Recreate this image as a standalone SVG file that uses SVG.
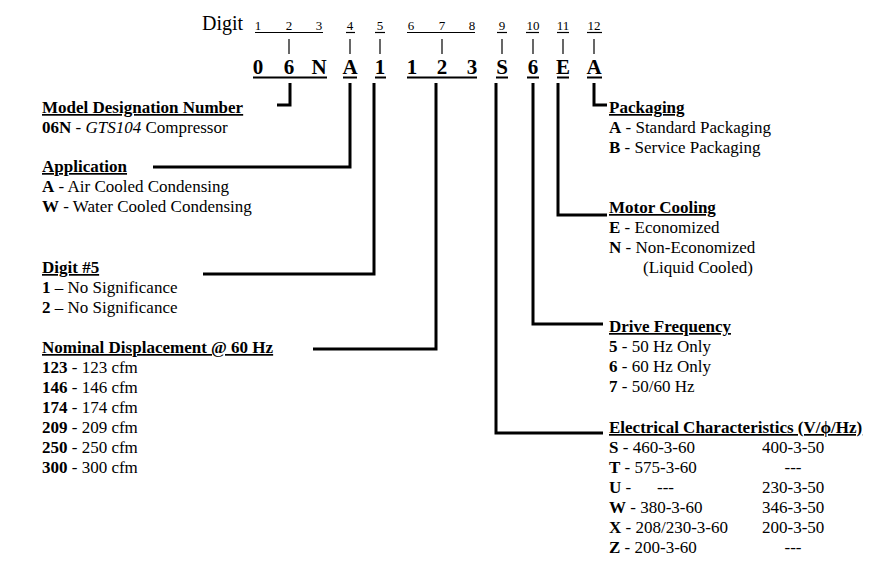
<svg xmlns="http://www.w3.org/2000/svg" width="884" height="572" viewBox="0 0 884 572">
<style>
text{font-family:"Liberation Serif","Times New Roman",serif;fill:#000}
.t{font-size:17px}
.h{font-size:17px;font-weight:bold;text-decoration:underline}
.b{font-weight:bold}
.sd{font-size:13px;text-anchor:middle}
.big{font-size:21px;font-weight:bold;text-anchor:middle}
.ul{stroke:#000;stroke-width:1.2}
.ulb{stroke:#000;stroke-width:2}
.tick{stroke:#000;stroke-width:1.2}
.con{fill:none;stroke:#000;stroke-width:3;stroke-linejoin:miter}
</style>
<rect width="884" height="572" fill="#fff"/>
<g id="digit-header">
<text x="202" y="30" style="font-size:20px">Digit</text>
<text class="sd" x="258" y="30">1</text><text class="sd" x="289" y="30">2</text><text class="sd" x="319" y="30">3</text>
<text class="sd" x="350" y="30">4</text><text class="sd" x="380" y="30">5</text>
<text class="sd" x="411" y="30">6</text><text class="sd" x="442" y="30">7</text><text class="sd" x="472" y="30">8</text>
<text class="sd" x="502" y="30">9</text><text class="sd" x="533" y="30">10</text><text class="sd" x="563" y="30">11</text><text class="sd" x="594" y="30">12</text>
<line class="ul" x1="255" y1="32.5" x2="323" y2="32.5"/>
<line class="ul" x1="346" y1="32.5" x2="355" y2="32.5"/>
<line class="ul" x1="375" y1="32.5" x2="385" y2="32.5"/>
<line class="ul" x1="407" y1="32.5" x2="475" y2="32.5"/>
<line class="ul" x1="497" y1="32.5" x2="507" y2="32.5"/>
<line class="ul" x1="526" y1="32.5" x2="539" y2="32.5"/>
<line class="ul" x1="557" y1="32.5" x2="569" y2="32.5"/>
<line class="ul" x1="587" y1="32.5" x2="602" y2="32.5"/>
<line class="tick" x1="289" y1="39" x2="289" y2="54"/>
<line class="tick" x1="350" y1="39" x2="350" y2="54"/>
<line class="tick" x1="380" y1="39" x2="380" y2="54"/>
<line class="tick" x1="442" y1="39" x2="442" y2="54"/>
<line class="tick" x1="502" y1="39" x2="502" y2="54"/>
<line class="tick" x1="533" y1="39" x2="533" y2="54"/>
<line class="tick" x1="563" y1="39" x2="563" y2="54"/>
<line class="tick" x1="594" y1="39" x2="594" y2="54"/>
</g>
<g id="model-code">
<text class="big" x="258" y="74">0</text><text class="big" x="289" y="74">6</text><text class="big" x="319" y="74">N</text>
<text class="big" x="350" y="74">A</text><text class="big" x="380" y="74">1</text>
<text class="big" x="412" y="74">1</text><text class="big" x="442" y="74">2</text><text class="big" x="472" y="74">3</text>
<text class="big" x="502" y="74">S</text><text class="big" x="533" y="74">6</text><text class="big" x="563" y="74">E</text><text class="big" x="594" y="74">A</text>
<line class="ulb" x1="253" y1="77.5" x2="327" y2="77.5"/>
<line class="ulb" x1="343" y1="77.5" x2="357" y2="77.5"/>
<line class="ulb" x1="375" y1="77.5" x2="386" y2="77.5"/>
<line class="ulb" x1="407" y1="77.5" x2="477" y2="77.5"/>
<line class="ulb" x1="496" y1="77.5" x2="508" y2="77.5"/>
<line class="ulb" x1="527" y1="77.5" x2="539" y2="77.5"/>
<line class="ulb" x1="557" y1="77.5" x2="569" y2="77.5"/>
<line class="ulb" x1="587" y1="77.5" x2="602" y2="77.5"/>
</g>
<g id="connectors">
<path class="con" d="M290,83 V105 H277"/>
<path class="con" d="M350,83 V167 H153"/>
<path class="con" d="M374,83 V274 H203"/>
<path class="con" d="M436,83 V349 H313"/>
<path class="con" d="M496,83 V433 H603"/>
<path class="con" d="M533,83 V324 H603"/>
<path class="con" d="M558,83 V215 H607"/>
<path class="con" d="M594,83 V105 H607"/>
</g>
<g id="model-designation">
<text class="h" x="42" y="113">Model Designation Number</text>
<text class="t" x="42" y="133"><tspan class="b">06N</tspan> - <tspan font-style="italic">GTS104</tspan> Compressor</text>
</g>
<g id="application">
<text class="h" x="42" y="172">Application</text>
<text class="t" x="42" y="192"><tspan class="b">A</tspan> - Air Cooled Condensing</text>
<text class="t" x="42" y="212"><tspan class="b">W</tspan> - Water Cooled Condensing</text>
</g>
<g id="digit5">
<text class="h" x="42" y="273">Digit #5</text>
<text class="t" x="42" y="293"><tspan class="b">1</tspan> – No Significance</text>
<text class="t" x="42" y="313"><tspan class="b">2</tspan> – No Significance</text>
</g>
<g id="displacement">
<text class="h" x="42" y="353">Nominal Displacement @ 60 Hz</text>
<text class="t" x="42" y="373"><tspan class="b">123</tspan> - 123 cfm</text>
<text class="t" x="42" y="393"><tspan class="b">146</tspan> - 146 cfm</text>
<text class="t" x="42" y="413"><tspan class="b">174</tspan> - 174 cfm</text>
<text class="t" x="42" y="433"><tspan class="b">209</tspan> - 209 cfm</text>
<text class="t" x="42" y="453"><tspan class="b">250</tspan> - 250 cfm</text>
<text class="t" x="42" y="473"><tspan class="b">300</tspan> - 300 cfm</text>
</g>
<g id="packaging">
<text class="h" x="609" y="113">Packaging</text>
<text class="t" x="609" y="133"><tspan class="b">A</tspan> - Standard Packaging</text>
<text class="t" x="609" y="153"><tspan class="b">B</tspan> - Service Packaging</text>
</g>
<g id="motor-cooling">
<text class="h" x="609" y="213">Motor Cooling</text>
<text class="t" x="609" y="233"><tspan class="b">E</tspan> - Economized</text>
<text class="t" x="609" y="253"><tspan class="b">N</tspan> - Non-Economized</text>
<text class="t" x="643" y="273">(Liquid Cooled)</text>
</g>
<g id="drive-frequency">
<text class="h" x="609" y="332">Drive Frequency</text>
<text class="t" x="609" y="352"><tspan class="b">5</tspan> - 50 Hz Only</text>
<text class="t" x="609" y="372"><tspan class="b">6</tspan> - 60 Hz Only</text>
<text class="t" x="609" y="392"><tspan class="b">7</tspan> - 50/60 Hz</text>
</g>
<g id="electrical">
<text class="h" x="609" y="433">Electrical Characteristics (V/ϕ/Hz)</text>
<text class="t" x="609" y="453"><tspan class="b">S</tspan> - 460-3-60</text>
<text class="t" x="609" y="473"><tspan class="b">T</tspan> - 575-3-60</text>
<text class="t" x="609" y="493"><tspan class="b">U</tspan> -</text>
<text class="t" x="657" y="493">---</text>
<text class="t" x="609" y="513"><tspan class="b">W</tspan> - 380-3-60</text>
<text class="t" x="609" y="533"><tspan class="b">X</tspan> - 208/230-3-60</text>
<text class="t" x="609" y="553"><tspan class="b">Z</tspan> - 200-3-60</text>
<text class="t" x="762" y="453">400-3-50</text>
<text class="t" x="793" y="473" text-anchor="middle">---</text>
<text class="t" x="762" y="493">230-3-50</text>
<text class="t" x="762" y="513">346-3-50</text>
<text class="t" x="762" y="533">200-3-50</text>
<text class="t" x="793" y="553" text-anchor="middle">---</text>
</g>
</svg>
